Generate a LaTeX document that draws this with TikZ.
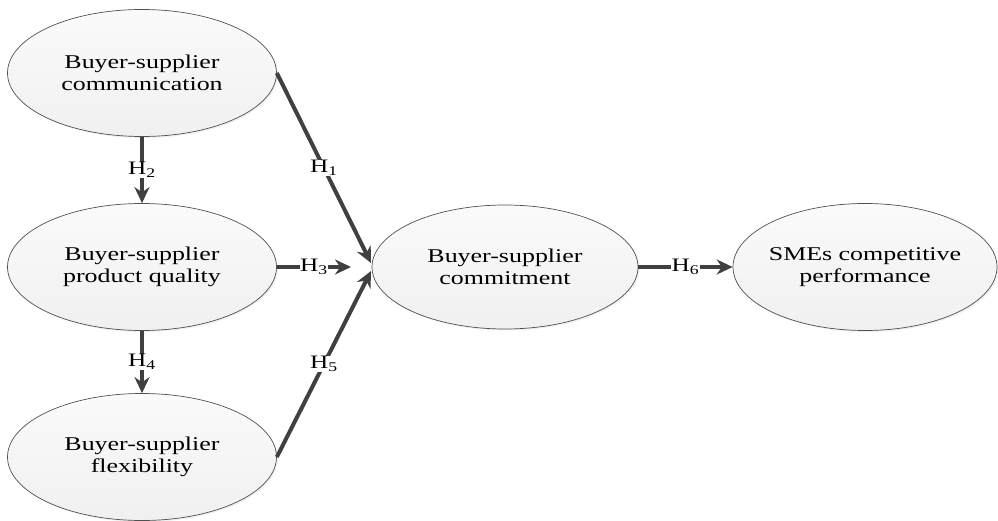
\documentclass[tikz,border=0pt]{standalone}
\usepackage{fontspec}
\setmainfont{Liberation Serif}
\newfontfamily\ellfont[FakeStretch=1.33]{Liberation Serif}
\usetikzlibrary{arrows.meta,shapes.geometric,shadows}
\definecolor{arrowgray}{RGB}{64,64,64}
\definecolor{ellfill}{RGB}{240,240,240}
\tikzset{
  construct/.style={ellipse, draw={rgb,255:red,80;green,80;blue,80}, line width=0.7pt,
    top color=white!70!ellfill, bottom color=ellfill,
    drop shadow={opacity=0.12, shadow xshift=1.5pt, shadow yshift=-1.5pt},
    minimum width=269pt, minimum height=127pt, inner xsep=-40pt, inner ysep=0pt, align=center,
    font=\ellfont\fontsize{19.5}{21.7}\selectfont},
  hyp/.style={draw=arrowgray, line width=4pt, -{Stealth[length=16pt,width=15pt]}},
  lab/.style={fill=white, inner sep=0.5pt, font=\ellfont\fontsize{19}{21}\selectfont}
}
\begin{document}
\begin{tikzpicture}[x=1pt,y=-1pt]
\useasboundingbox (0,0) rectangle (998,521);
\node[construct] (comm) at (142,73) {Buyer-supplier\\communication};
\node[construct] (qual) at (142,267) {Buyer-supplier\\product quality};
\node[construct] (flex) at (142,457) {Buyer-supplier\\flexibility};
\node[construct, minimum width=266pt, minimum height=124pt] (cmt) at (505,267) {Buyer-supplier\\commitment};
\node[construct, minimum width=264pt] (sme) at (865,267) {SMEs competitive\\performance};
\coordinate (h1end) at (371,263);
\coordinate (h5end) at (371,271);
\coordinate (h3end) at (351,267);
\draw[hyp] (comm.south) -- node[lab] {H\textsubscript{2}} (qual.north);
\draw[hyp] (qual.south) -- node[lab] {H\textsubscript{4}} (flex.north);
\draw[hyp] (comm.east) -- node[lab] {H\textsubscript{1}} (h1end);
\draw[hyp] (flex.east) -- node[lab] {H\textsubscript{5}} (h5end);
\draw[hyp] (qual.east) -- node[lab] {H\textsubscript{3}} (h3end);
\draw[hyp] (cmt.east) -- node[lab] {H\textsubscript{6}} (sme.west);
\end{tikzpicture}
\end{document}
